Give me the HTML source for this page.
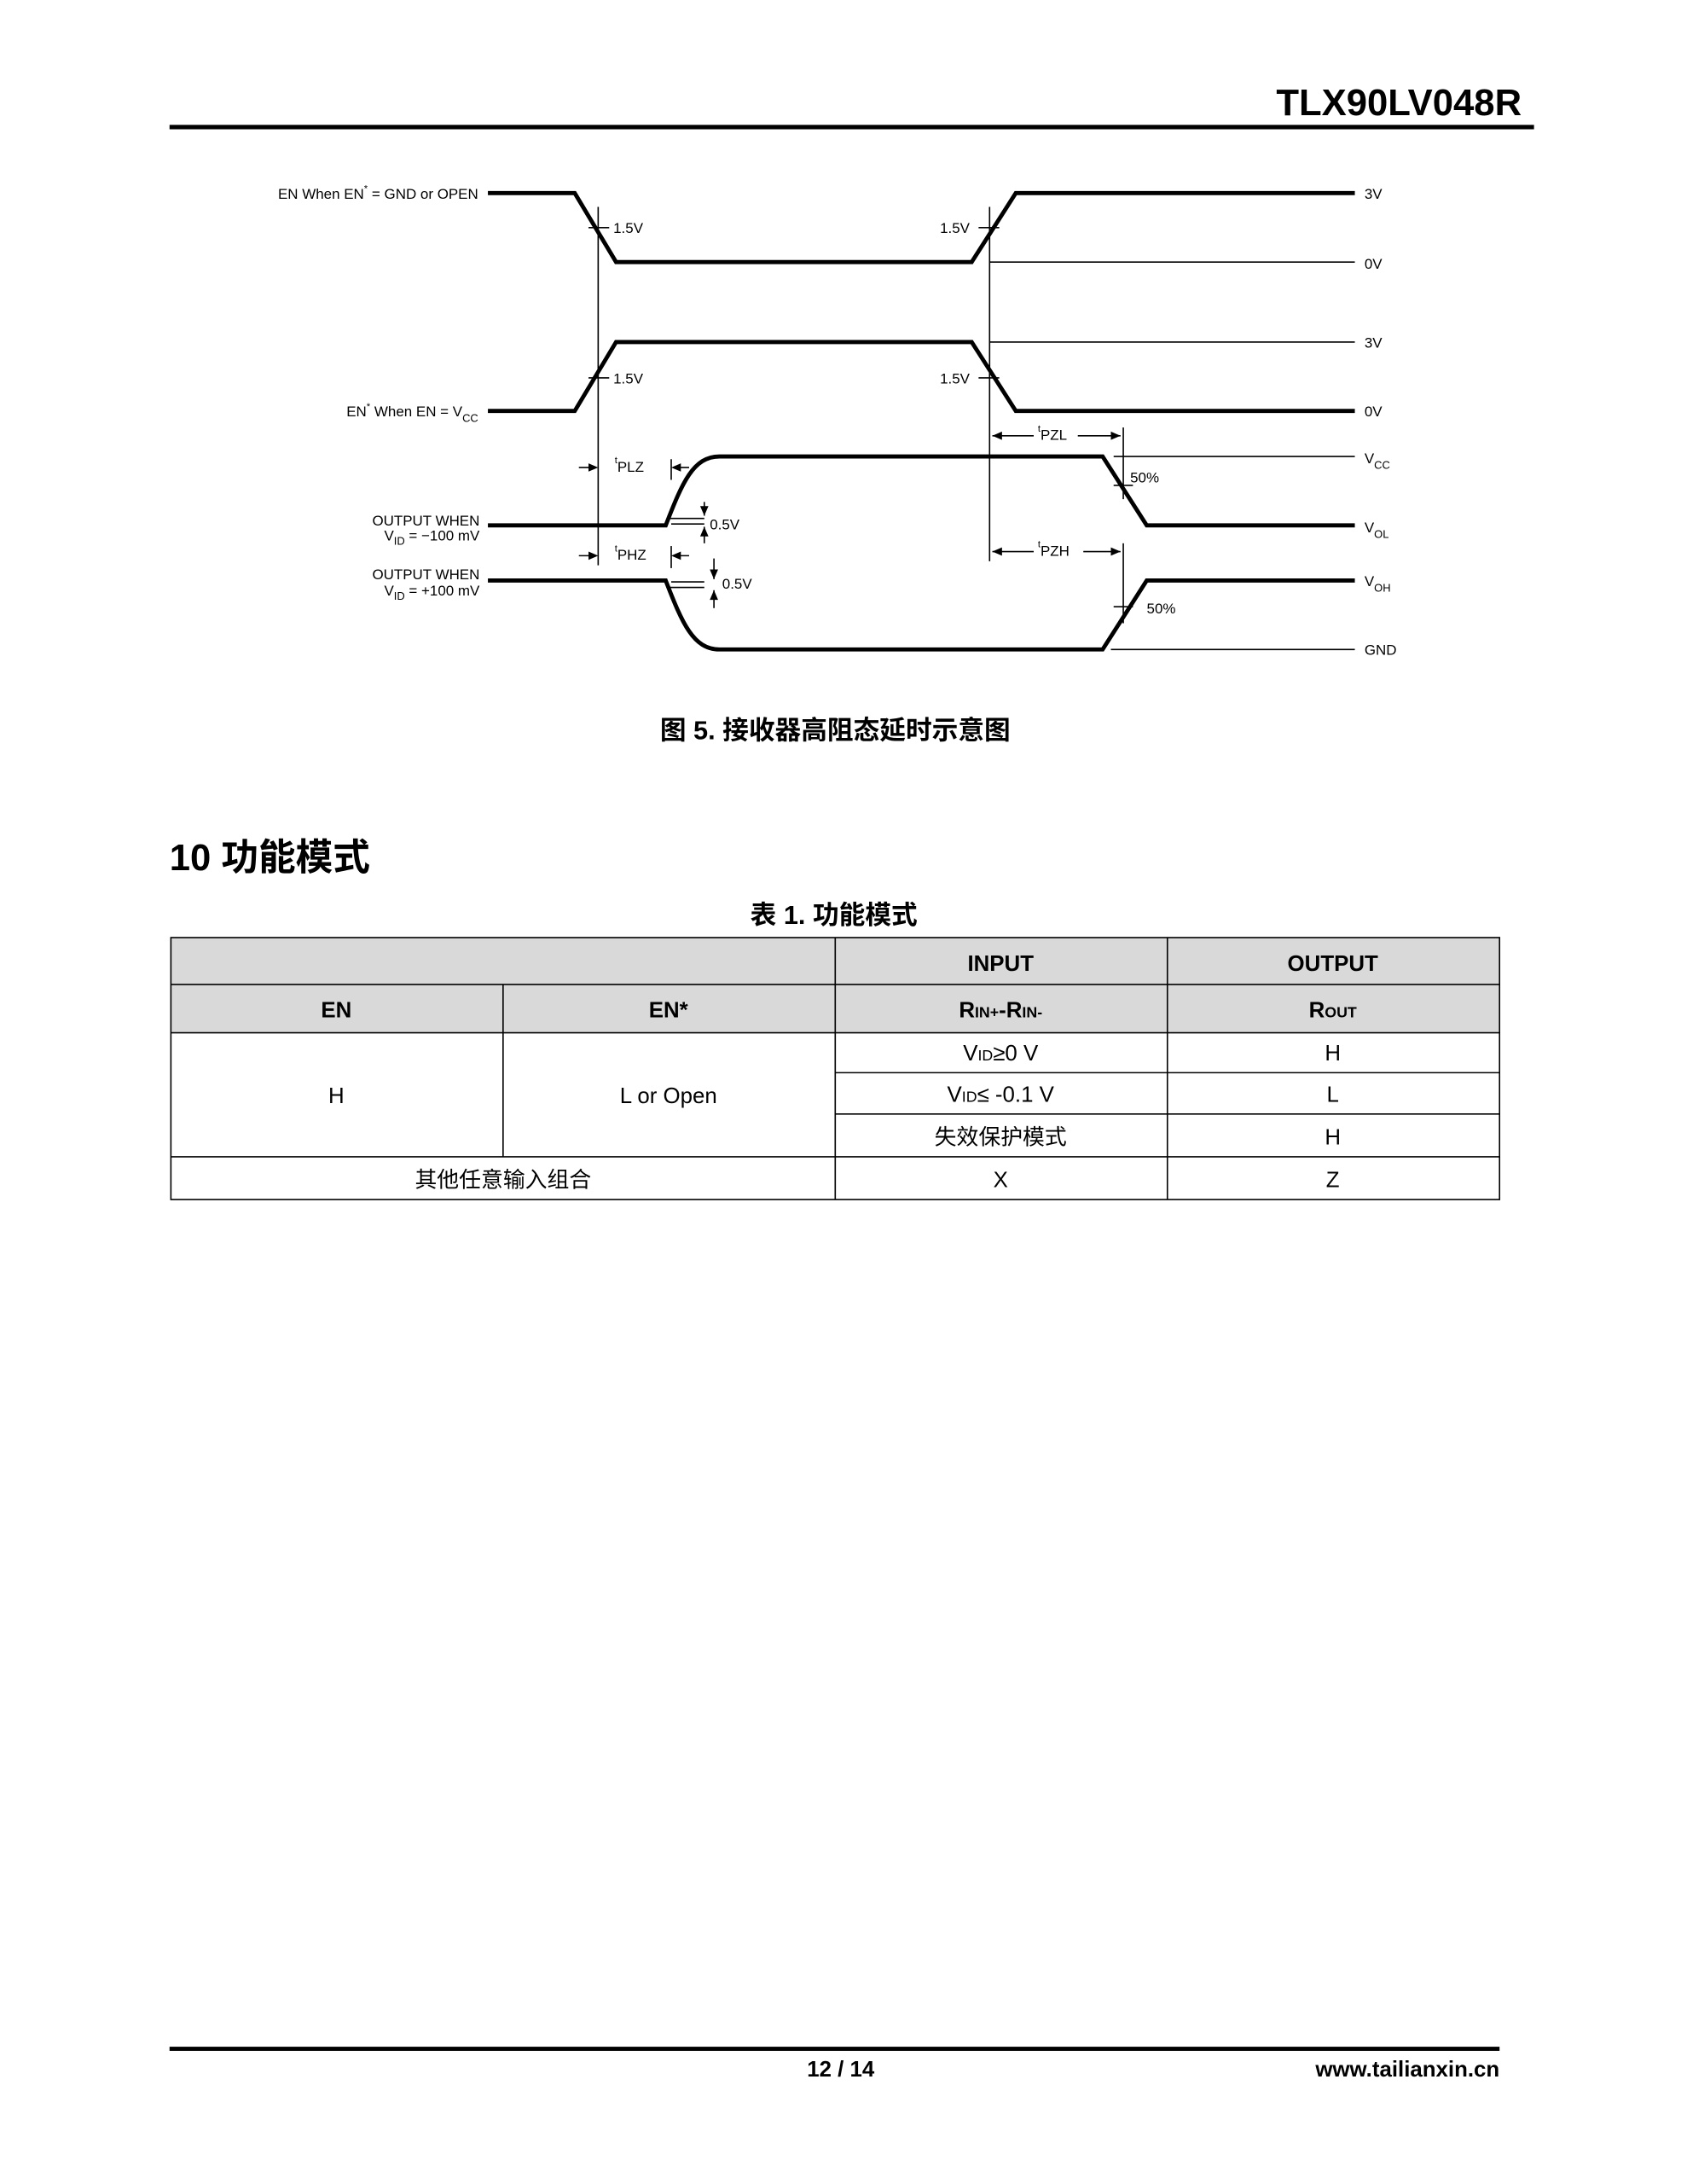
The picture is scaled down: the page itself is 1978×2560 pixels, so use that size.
<!DOCTYPE html>
<html><head><meta charset="utf-8"><style>
html,body{margin:0;padding:0;background:#fff;}
svg{display:block;}
text{font-family:"Liberation Sans","Noto Sans CJK SC",sans-serif;fill:#000;}
.m{font-family:"DejaVu Sans Mono","Liberation Mono",monospace;font-size:10.5px;}
.t{font-size:16px;}
.b{font-weight:bold;}
</style></head><body>
<svg width="1978" height="2560" viewBox="0 0 1224 1584" xmlns="http://www.w3.org/2000/svg">
<!-- header -->
<text x="1104" y="83.5" text-anchor="end" class="b" style="font-size:27px">TLX90LV048R</text>
<rect x="123" y="90.5" width="990" height="3.2" fill="#000"/>

<!-- diagram -->
<g fill="none" stroke="#000">
 <!-- thick waveforms -->
 <g stroke-width="3">
  <polyline points="354,140 417,140 447,190 705,190 737,140 983,140"/>
  <polyline points="354,298 417,298 447,248 705,248 737,298 983,298"/>
  <path d="M354,381 L483,381 C495,350 503,331 522,331 L800,331 L832,381 L983,381"/>
  <path d="M354,421 L483,421 C495,452 503,471 522,471 L800,471 L832,421 L983,421"/>
 </g>
 <g stroke-width="1">
  <line x1="718" y1="190" x2="983" y2="190"/>
  <line x1="718" y1="248" x2="983" y2="248"/>
  <line x1="808" y1="331" x2="983" y2="331"/>
  <line x1="806" y1="471" x2="983" y2="471"/>
  <line x1="434" y1="150" x2="434" y2="410"/>
  <line x1="718" y1="150" x2="718" y2="407"/>
  <line x1="487" y1="333" x2="487" y2="348"/>
  <line x1="487" y1="396" x2="487" y2="412"/>
  <line x1="815" y1="310" x2="815" y2="362"/>
  <line x1="815" y1="394" x2="815" y2="452"/>
  <!-- 1.5V ticks -->
  <line x1="427" y1="165" x2="442" y2="165"/>
  <line x1="427" y1="274" x2="442" y2="274"/>
  <line x1="710" y1="165" x2="725" y2="165"/>
  <line x1="710" y1="274" x2="725" y2="274"/>
  <!-- 0.5V ticks -->
  <line x1="484" y1="376" x2="511" y2="376"/>
  <line x1="487" y1="380" x2="511" y2="380"/>
  <line x1="484" y1="426" x2="511" y2="426"/>
  <line x1="487" y1="422" x2="511" y2="422"/>
  <line x1="511" y1="364" x2="511" y2="374"/>
  <line x1="511" y1="382" x2="511" y2="394"/>
  <line x1="518" y1="405" x2="518" y2="420"/>
  <line x1="518" y1="428" x2="518" y2="441"/>
  <!-- 50% ticks -->
  <line x1="808" y1="352" x2="822" y2="352"/>
  <line x1="808" y1="440" x2="822" y2="440"/>
  <!-- tPZL/tPZH arrows lines -->
  <line x1="720" y1="316" x2="750" y2="316"/>
  <line x1="782" y1="316" x2="813" y2="316"/>
  <line x1="720" y1="400" x2="750" y2="400"/>
  <line x1="786" y1="400" x2="813" y2="400"/>
  <line x1="420" y1="339" x2="432" y2="339"/>
  <line x1="489" y1="339" x2="500" y2="339"/>
  <line x1="420" y1="403" x2="432" y2="403"/>
  <line x1="489" y1="403" x2="500" y2="403"/>
 </g>
</g>
<g fill="#000">
 <polygon points="434,339 427,336 427,342"/>
 <polygon points="487,339 494,336 494,342"/>
 <polygon points="434,403 427,400 427,406"/>
 <polygon points="487,403 494,400 494,406"/>
 <polygon points="720,316 727,313 727,319"/>
 <polygon points="813,316 806,313 806,319"/>
 <polygon points="720,400 727,397 727,403"/>
 <polygon points="813,400 806,397 806,403"/>
 <polygon points="511,374 508,367 514,367"/>
 <polygon points="511,382 508,389 514,389"/>
 <polygon points="518,420 515,413 521,413"/>
 <polygon points="518,428 515,435 521,435"/>
</g>
<g class="m">
 <text x="347" y="144" text-anchor="end">EN When EN<tspan dy="-5" font-size="7">*</tspan><tspan dy="5"> = GND or OPEN</tspan></text>
 <text x="347" y="302" text-anchor="end">EN<tspan dy="-5" font-size="7">*</tspan><tspan dy="5"> When EN = V</tspan><tspan dy="4" font-size="8">CC</tspan></text>
 <text x="348" y="381" text-anchor="end">OUTPUT WHEN</text>
 <text x="348" y="392" text-anchor="end">V<tspan dy="3" font-size="8">ID</tspan><tspan dy="-3"> = −100 mV</tspan></text>
 <text x="348" y="420" text-anchor="end">OUTPUT WHEN</text>
 <text x="348" y="432" text-anchor="end">V<tspan dy="3" font-size="8">ID</tspan><tspan dy="-3"> = +100 mV</tspan></text>
 <text x="445" y="169">1.5V</text>
 <text x="445" y="278">1.5V</text>
 <text x="682" y="169">1.5V</text>
 <text x="682" y="278">1.5V</text>
 <text x="990" y="144">3V</text>
 <text x="990" y="195">0V</text>
 <text x="990" y="252">3V</text>
 <text x="990" y="302">0V</text>
 <text x="990" y="336">V<tspan dy="4" font-size="8">CC</tspan></text>
 <text x="990" y="386">V<tspan dy="4" font-size="8">OL</tspan></text>
 <text x="990" y="425">V<tspan dy="4" font-size="8">OH</tspan></text>
 <text x="990" y="475">GND</text>
 <text x="820" y="350">50%</text>
 <text x="832" y="445">50%</text>
 <text x="515" y="384">0.5V</text>
 <text x="524" y="427">0.5V</text>
 <text x="446" y="339"><tspan font-size="7" dy="-3">t</tspan><tspan dy="6">PLZ</tspan></text>
 <text x="446" y="403"><tspan font-size="7" dy="-3">t</tspan><tspan dy="6">PHZ</tspan></text>
 <text x="753" y="316"><tspan font-size="7" dy="-3">t</tspan><tspan dy="6">PZL</tspan></text>
 <text x="753" y="400"><tspan font-size="7" dy="-3">t</tspan><tspan dy="6">PZH</tspan></text>
</g>

<text x="606" y="536" text-anchor="middle" class="b" style="font-size:19px">图 5. 接收器高阻态延时示意图</text>
<text x="123" y="631" class="b" style="font-size:27px">10 功能模式</text>
<text x="605" y="670" text-anchor="middle" class="b" style="font-size:19px">表 1. 功能模式</text>

<!-- table -->
<rect x="124" y="680" width="964" height="69" fill="#d9d9d9"/>
<g stroke="#000" stroke-width="1" fill="none">
 <rect x="124" y="680" width="964" height="190"/>
 <line x1="124" y1="714" x2="1088" y2="714"/>
 <line x1="124" y1="749" x2="1088" y2="749"/>
 <line x1="606" y1="778" x2="1088" y2="778"/>
 <line x1="606" y1="808" x2="1088" y2="808"/>
 <line x1="124" y1="839" x2="1088" y2="839"/>
 <line x1="365" y1="714" x2="365" y2="839"/>
 <line x1="606" y1="680" x2="606" y2="870"/>
 <line x1="847" y1="680" x2="847" y2="870"/>
</g>
<g class="t" text-anchor="middle">
 <text x="726" y="704" class="b">INPUT</text>
 <text x="967" y="704" class="b">OUTPUT</text>
 <text x="244" y="738" class="b">EN</text>
 <text x="485" y="738" class="b">EN*</text>
 <text x="726" y="738" class="b">R<tspan font-size="11">IN+</tspan>-R<tspan font-size="11">IN-</tspan></text>
 <text x="967" y="738" class="b">R<tspan font-size="11">OUT</tspan></text>
 <text x="726" y="769">V<tspan font-size="11">ID</tspan>≥0 V</text>
 <text x="967" y="769">H</text>
 <text x="726" y="799">V<tspan font-size="11">ID</tspan>≤ -0.1 V</text>
 <text x="967" y="799">L</text>
 <text x="726" y="830">失效保护模式</text>
 <text x="967" y="830">H</text>
 <text x="244" y="800">H</text>
 <text x="485" y="800">L or Open</text>
 <text x="365" y="861">其他任意输入组合</text>
 <text x="726" y="861">X</text>
 <text x="967" y="861">Z</text>
</g>

<!-- footer -->
<rect x="123" y="1484.5" width="965" height="3" fill="#000"/>
<text x="610" y="1506" text-anchor="middle" class="b" style="font-size:16px">12 / 14</text>
<text x="1088" y="1506" text-anchor="end" class="b" style="font-size:16px">www.tailianxin.cn</text>
</svg>
</body></html>
